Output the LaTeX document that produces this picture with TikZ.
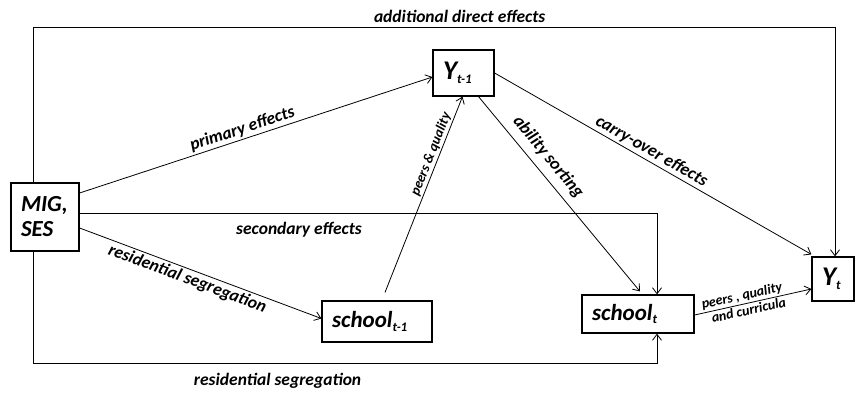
\documentclass[tikz,border=0pt]{standalone}
\usepackage{fontspec}
\setmainfont{Carlito}
\usetikzlibrary{arrows.meta}

\newcommand\lowsub[1]{\raisebox{-.15em}{\fontsize{13}{13}\selectfont #1}}

\begin{document}
\begin{tikzpicture}[x=1pt, y=-1pt,
        box/.style={draw, line width=1.2pt, inner xsep=10pt, inner ysep=0pt, align=left,
            font=\fontsize{23}{25}\selectfont\bfseries\itshape},
        arr/.style={line width=.8pt, -{Straight Barb[length=6pt,width=9pt]}},
        lbl/.style={font=\fontsize{17.5}{19}\selectfont\bfseries\itshape, inner sep=2pt},
        small/.style={font=\fontsize{14}{15}\selectfont\bfseries\itshape, inner sep=1.5pt}]
            \begin{scope}
                \useasboundingbox (0,0) rectangle (856,394);

                % boxes
                \node[box, text width=48pt, minimum height=68pt] (mig) at (45,217) {MIG,\\SES};
                \node[box, text width=41pt, minimum height=46pt] (ylag) at (463.5,73) {{\fontsize{27}{27}\selectfont Y}\lowsub{t-1}};
                \node[box, text width=22pt, minimum height=44pt] (yt) at (833,279) {{\fontsize{27}{27}\selectfont Y}\lowsub{t}};
                \node[box, text width=92pt, minimum height=38pt] (schoolt) at (638,314) {school\lowsub{t}};
                \node[box, text width=90pt, minimum height=41pt] (schoollag) at (377,321.5) {school\lowsub{t-1}};

                % connectors
                \draw[arr] ([xshift=-12pt]mig.north) -- ++(0,-155) -| ([xshift=2pt]yt.north)
                    node[lbl, pos=.266, above=2pt] (ladd) {additional direct effects};
                \draw[arr] ([yshift=24pt]mig.east) -- ([yshift=-4pt]ylag.west)
                    node[lbl, pos=.47, above, sloped] (lprim) {primary effects};
                \draw[arr] ([yshift=4pt]mig.east) -| ([xshift=19pt]schoolt.north)
                    node[lbl, pos=.19, below=7pt] (lsec) {secondary effects};
                \draw[arr] ([yshift=-11pt]mig.east) -- ([yshift=3pt]schoollag.west)
                    node[lbl, pos=.46, below, sloped] (lres) {residential segregation};
                \draw[arr] ([xshift=-12pt]mig.south) -- ++(0,112) -| ([xshift=19pt]schoolt.south)
                    node[lbl, pos=.196, below=7pt] (lresb) {residential segregation};
                \draw[arr] ([xshift=8pt,yshift=8pt]schoollag.north) -- ([xshift=-1pt]ylag.south)
                    node[small, pos=.69, above, sloped] (lpeer) {peers \& quality};
                \draw[arr] ([xshift=15pt]ylag.south) -- ([xshift=2pt,yshift=3pt]schoolt.north)
                    node[lbl, pos=.36, above=5pt, sloped] (lsort) {ability sorting};
                \draw[arr] (ylag.east) -- ([yshift=2pt]yt.north west)
                    node[lbl, pos=.48, above, sloped] (lcarry) {carry-over effects};
                \draw[arr] ([yshift=-1pt]schoolt.east) -- ([yshift=-10pt]yt.west)
                    node[small, pos=.42, above, sloped] (lpq) {peers , quality}
                    node[small, pos=.45, below, sloped] (lcur) {and curricula};

            \end{scope}
\end{tikzpicture}
\end{document}
